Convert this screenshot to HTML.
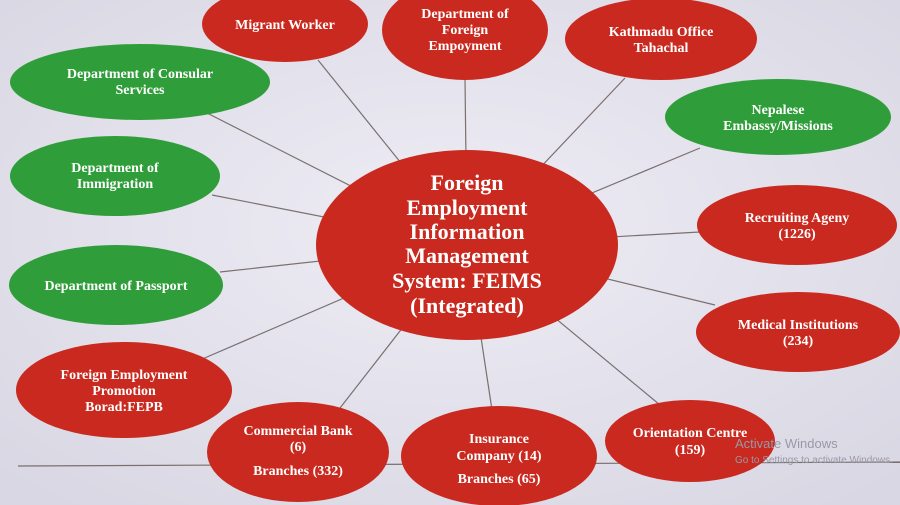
<!DOCTYPE html>
<html><head><meta charset="utf-8"><style>
html,body{margin:0;padding:0;}
body{width:900px;height:505px;overflow:hidden;background:#e6e4ee;}
svg{display:block}
text{font-family:"Liberation Serif",serif;font-weight:bold;fill:#fff;text-anchor:middle}
</style></head><body>
<svg width="900" height="505" viewBox="0 0 900 505">
<defs>
<radialGradient id="bg" cx="50%" cy="45%" r="70%"><stop offset="0" stop-color="#eeecf4"/><stop offset="1" stop-color="#d9d7e3"/></radialGradient>
</defs>
<rect width="900" height="505" fill="url(#bg)"/>
<g stroke="#7a7070" stroke-width="1.2">
<line x1="18" y1="466" x2="900" y2="462"/>
<line x1="467" y1="245" x2="318" y2="60"/>
<line x1="467" y1="245" x2="465" y2="78"/>
<line x1="467" y1="245" x2="625" y2="78"/>
<line x1="467" y1="245" x2="205" y2="112"/>
<line x1="467" y1="245" x2="700" y2="148"/>
<line x1="467" y1="245" x2="212" y2="195"/>
<line x1="467" y1="245" x2="700" y2="232"/>
<line x1="467" y1="245" x2="220" y2="272"/>
<line x1="467" y1="245" x2="715" y2="305"/>
<line x1="467" y1="245" x2="200" y2="360"/>
<line x1="467" y1="245" x2="340" y2="408"/>
<line x1="467" y1="245" x2="492" y2="410"/>
<line x1="467" y1="245" x2="660" y2="405"/>
</g>
<g fill="#c9291f">
<ellipse cx="285" cy="24" rx="83" ry="38"/>
<ellipse cx="465" cy="30" rx="83" ry="50"/>
<ellipse cx="661" cy="39" rx="96" ry="41"/>
<ellipse cx="467" cy="245" rx="151" ry="95"/>
<ellipse cx="797" cy="225" rx="100" ry="40"/>
<ellipse cx="798" cy="332" rx="102" ry="40"/>
<ellipse cx="124" cy="390" rx="108" ry="48"/>
<ellipse cx="298" cy="452" rx="91" ry="50"/>
<ellipse cx="499" cy="456" rx="98" ry="50"/>
<ellipse cx="690" cy="441" rx="85" ry="41"/>
</g>
<g fill="#2f9e3a">
<ellipse cx="140" cy="82" rx="130" ry="38"/>
<ellipse cx="778" cy="117" rx="113" ry="38"/>
<ellipse cx="115" cy="176" rx="105" ry="40"/>
<ellipse cx="116" cy="285" rx="107" ry="40"/>
</g>
<g font-size="14">
<text x="285" y="29">Migrant Worker</text>
<text x="465" y="18">Department of</text><text x="465" y="34">Foreign</text><text x="465" y="50">Empoyment</text>
<text x="661" y="36">Kathmadu Office</text><text x="661" y="52">Tahachal</text>
<text x="140" y="78">Department of Consular</text><text x="140" y="94">Services</text>
<text x="778" y="114">Nepalese</text><text x="778" y="130">Embassy/Missions</text>
<text x="115" y="172">Department of</text><text x="115" y="188">Immigration</text>
<text x="797" y="222">Recruiting Ageny</text><text x="797" y="238">(1226)</text>
<text x="116" y="290">Department of Passport</text>
<text x="798" y="329">Medical Institutions</text><text x="798" y="345">(234)</text>
<text x="124" y="379">Foreign Employment</text><text x="124" y="395">Promotion</text><text x="124" y="411">Borad:FEPB</text>
<text x="298" y="435">Commercial Bank</text><text x="298" y="451">(6)</text><text x="298" y="475">Branches (332)</text>
<text x="499" y="443">Insurance</text><text x="499" y="460">Company (14)</text><text x="499" y="483">Branches (65)</text>
<text x="690" y="437">Orientation Centre</text><text x="690" y="454">(159)</text>
</g>
<g font-size="22">
<text x="467" y="190">Foreign</text>
<text x="467" y="215">Employment</text>
<text x="467" y="239">Information</text>
<text x="467" y="263">Management</text>
<text x="467" y="288">System: FEIMS</text>
<text x="467" y="313">(Integrated)</text>
</g>
<text x="735" y="448" font-size="13" style="fill:#9a98a6;font-family:'Liberation Sans',sans-serif;font-weight:normal;text-anchor:start">Activate Windows</text>
<text x="735" y="463" font-size="10" style="fill:#9a98a6;font-family:'Liberation Sans',sans-serif;font-weight:normal;text-anchor:start">Go to Settings to activate Windows.</text>
</svg>
</body></html>
